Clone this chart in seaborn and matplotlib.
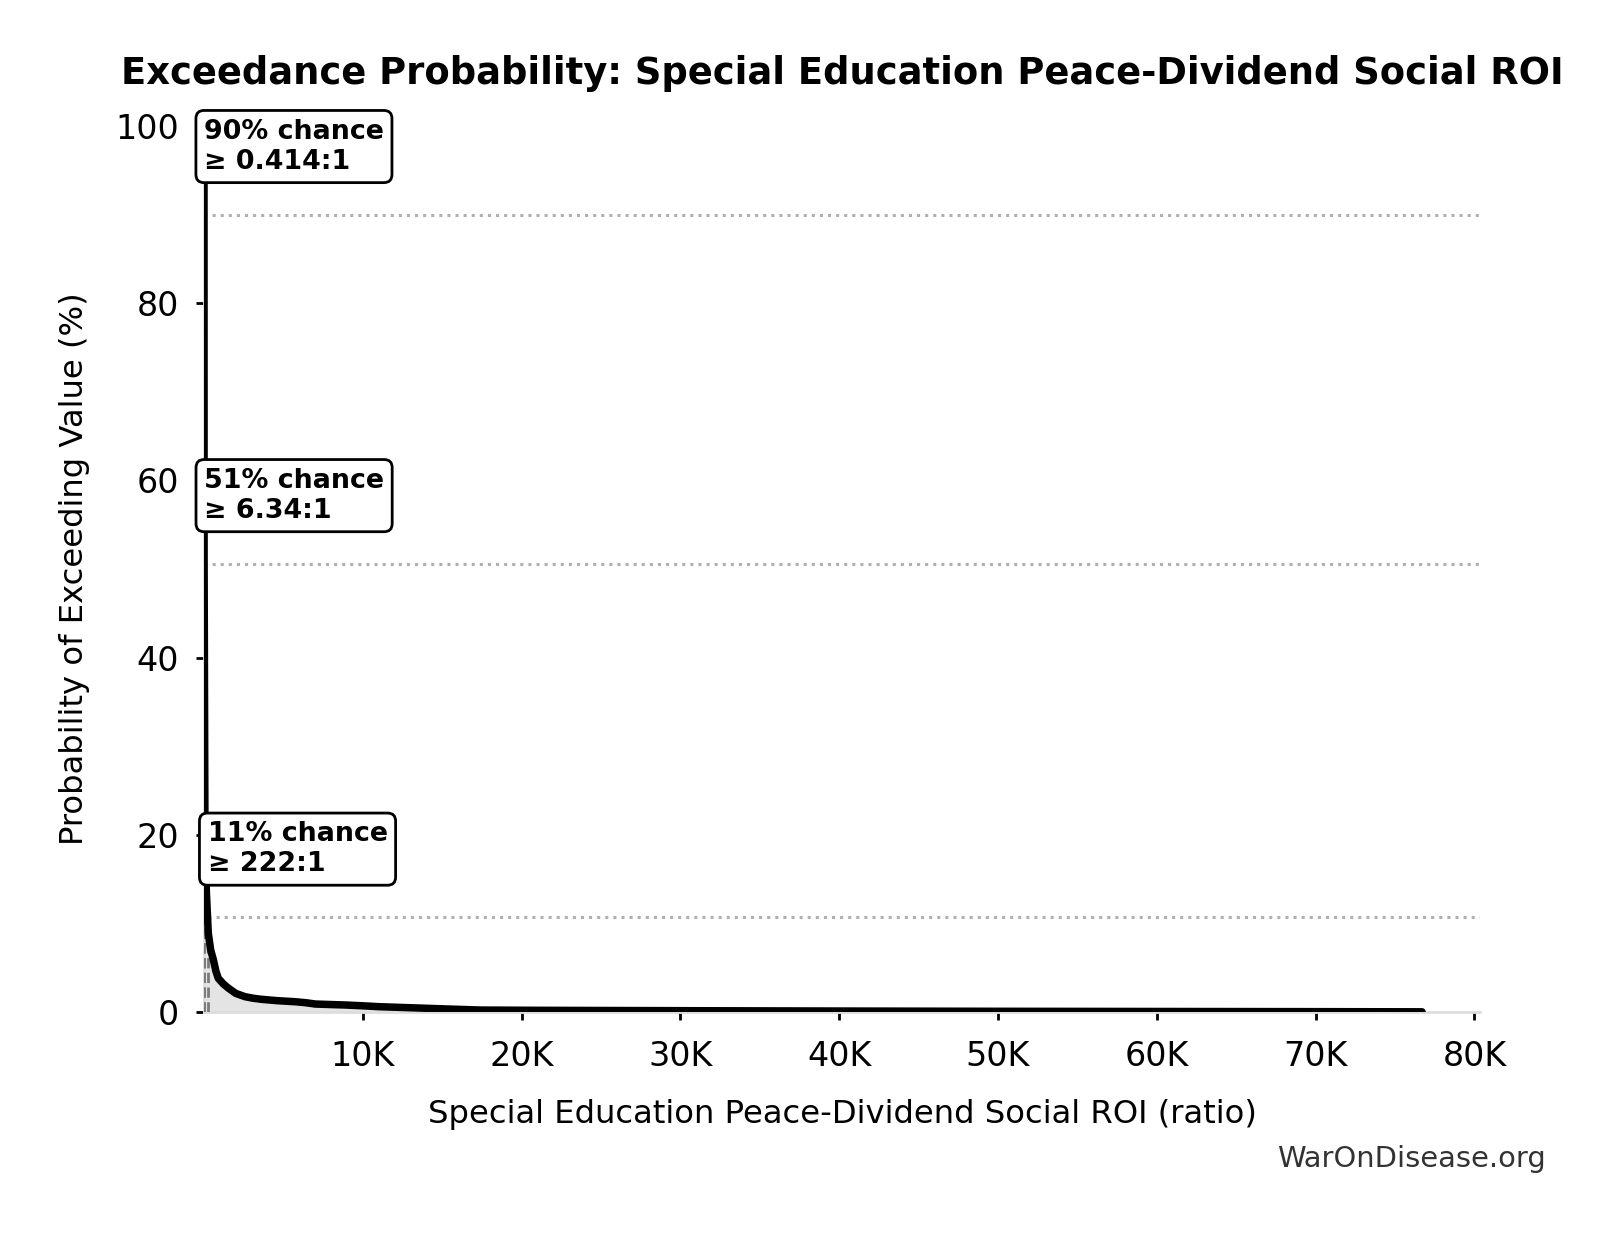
import numpy as np
import pandas as pd
import matplotlib
matplotlib.use("Agg")
import matplotlib.pyplot as plt
import seaborn as sns
from matplotlib.ticker import FixedLocator, FixedFormatter

# ---- data ----
roi_ratio = [0.02, 0.414, 6.34, 60, 150, 222, 270, 420, 590, 750, 900, 1200, 1530,
             2000, 2580, 3100, 3630, 4600, 5730, 6400, 7000, 8000, 8900, 10000,
             11000, 13000, 15300, 17400, 21000, 25000, 32000, 40000, 50000,
             60000, 70000, 76700]
exceed_pct = [100.0, 90.0, 50.6, 20.0, 13.5, 10.7, 8.9, 7.0, 5.9, 4.6, 3.8, 3.2, 2.7,
              2.1, 1.73, 1.55, 1.43, 1.28, 1.16, 1.05, 0.9, 0.84, 0.79, 0.7,
              0.6, 0.48, 0.34, 0.22, 0.19, 0.17, 0.14, 0.11, 0.08,
              0.06, 0.04, 0.02]

marker_pct = [90.0, 50.6, 10.7]
marker_roi = [0.414, 6.34, 222]
marker_labels = ["90% chance\n≥ 0.414:1", "51% chance\n≥ 6.34:1", "11% chance\n≥ 222:1"]

x_ticks = [10000, 20000, 30000, 40000, 50000, 60000, 70000, 80000]
x_tick_labels = ["10K", "20K", "30K", "40K", "50K", "60K", "70K", "80K"]
y_ticks = [0, 20, 40, 60, 80, 100]

title = "Exceedance Probability: Special Education Peace-Dividend Social ROI"
x_label = "Special Education Peace-Dividend Social ROI (ratio)"
y_label = "Probability of Exceeding Value (%)"
watermark = "WarOnDisease.org"

# ---- figure ----
sns.set_theme(style="ticks")
plt.rcParams["font.family"] = ["DejaVu Sans"]
plt.rcParams["text.color"] = "black"
plt.rcParams["axes.labelcolor"] = "black"
plt.rcParams["xtick.color"] = "black"
plt.rcParams["ytick.color"] = "black"

W, H, DPI = 1621, 1233, 200
fig = plt.figure(figsize=(W / DPI, H / DPI), dpi=DPI)
ax_left, ax_right, ax_top, ax_bottom = 204, 1480, 126, 1012
ax = fig.add_axes([ax_left / W, 1 - ax_bottom / H, (ax_right - ax_left) / W,
                   (ax_bottom - ax_top) / H])

df = pd.DataFrame({"roi": roi_ratio, "pct": exceed_pct})
XMAX = 80350

ax.fill_between(df["roi"], df["pct"], 0, color="#e4e4e4", zorder=1, lw=0)
sns.lineplot(data=df, x="roi", y="pct", color="black", lw=2.7, ax=ax,
             sort=False, estimator=None, zorder=4)

for xv, pv, lab in zip(marker_roi, marker_pct, marker_labels):
    ax.plot([xv, xv], [0, pv], ls="--", color="#7a7a7a", lw=1.0, zorder=3)
    ax.plot([xv, XMAX], [pv, pv], ls=":", color="#b0b0b0", lw=1.1, zorder=2)
    ax.annotate(lab, xy=(xv, pv), xytext=(0, 24.5), textcoords="offset points",
                ha="left", va="center", fontsize=9.7, fontweight="bold",
                color="black",
                bbox=dict(boxstyle="round,pad=0.3", fc="white", ec="black", lw=1.0),
                zorder=6)

ax.set_xlim(0, XMAX)
ax.set_ylim(0, 100)
ax.xaxis.set_major_locator(FixedLocator(x_ticks))
ax.xaxis.set_major_formatter(FixedFormatter(x_tick_labels))
ax.set_yticks(y_ticks)
ax.tick_params(axis="both", labelsize=12, length=2.8, width=1.0, color="black",
               labelcolor="black")
ax.tick_params(axis="x", pad=7.4)
ax.tick_params(axis="y", pad=6.2)

for s in ["top", "right"]:
    ax.spines[s].set_visible(False)
for s in ["left", "bottom"]:
    ax.spines[s].set_color("#dddddd")
    ax.spines[s].set_linewidth(1.0)

ax.set_xlabel(x_label, fontsize=11.6, labelpad=9.4)
ax.set_ylabel(y_label, fontsize=11.6, labelpad=9.2)
ax.set_title(title, fontsize=13.3, fontweight="bold", pad=15, color="black")

fig.text(1546 / W, 1 - 1159 / H, watermark, ha="right", va="center",
         fontsize=10.45, color="#333333")

fig.savefig("out.png", dpi=DPI, facecolor="white")
